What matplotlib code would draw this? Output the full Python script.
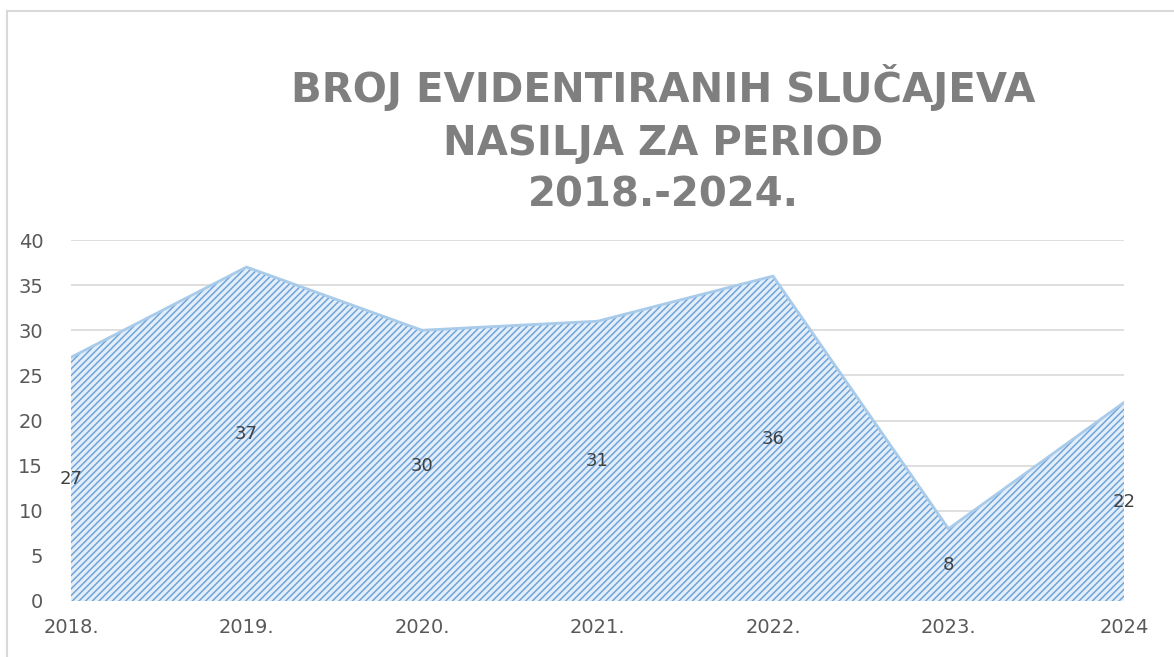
import matplotlib.pyplot as plt
from matplotlib.lines import Line2D

years = ['2018.', '2019.', '2020.', '2021.', '2022.', '2023.', '2024']
cases = [27, 37, 30, 31, 36, 8, 22]
title = 'BROJ EVIDENTIRANIH SLUČAJEVA\nNASILJA ZA PERIOD\n2018.-2024.'

W, H = 1174, 657
fig = plt.figure(figsize=(W / 100, H / 100), dpi=100)
ax = fig.add_axes([71 / W, 1 - 601 / H, (1124 - 71) / W, (601 - 240) / H])

x = list(range(len(years)))
plt.rcParams['hatch.linewidth'] = 1.1
ax.fill_between(x, cases, 0, facecolor='#e3eef9', edgecolor='#6fa5dc',
                hatch='/////', linewidth=0, zorder=2)
ax.plot(x, cases, color='#a9cbea', linewidth=2, zorder=3)

for xi, v in zip(x, cases):
    ax.text(xi, v / 2, str(v), ha='center', va='center', fontsize=13,
            color='#404040', zorder=4)

ax.set_xlim(0, len(years) - 1)
ax.set_ylim(0, 40)
ax.set_yticks(range(0, 41, 5))
ax.set_xticks(x)
ax.set_xticklabels(years)
ax.tick_params(axis='y', length=0, labelsize=14, labelcolor='#595959', pad=20)
ax.tick_params(axis='x', length=0, labelsize=14, labelcolor='#595959', pad=12)
ax.grid(axis='y', color='#d9d9d9', linewidth=1.2, zorder=0)
for s in ax.spines.values():
    s.set_visible(False)

fig.text(663 / W, 1 - 140 / H, title, ha='center', va='center',
         fontsize=29, fontweight='bold', color='#7f7f7f',
         family='DejaVu Sans', linespacing=1.4)

# chart border
fig.add_artist(Line2D([7 / W, 1], [1 - 11 / H, 1 - 11 / H], color='#d9d9d9', linewidth=1.5))
fig.add_artist(Line2D([7 / W, 7 / W], [0, 1 - 11 / H], color='#d9d9d9', linewidth=1.5))

fig.savefig('out.png', dpi=100)
